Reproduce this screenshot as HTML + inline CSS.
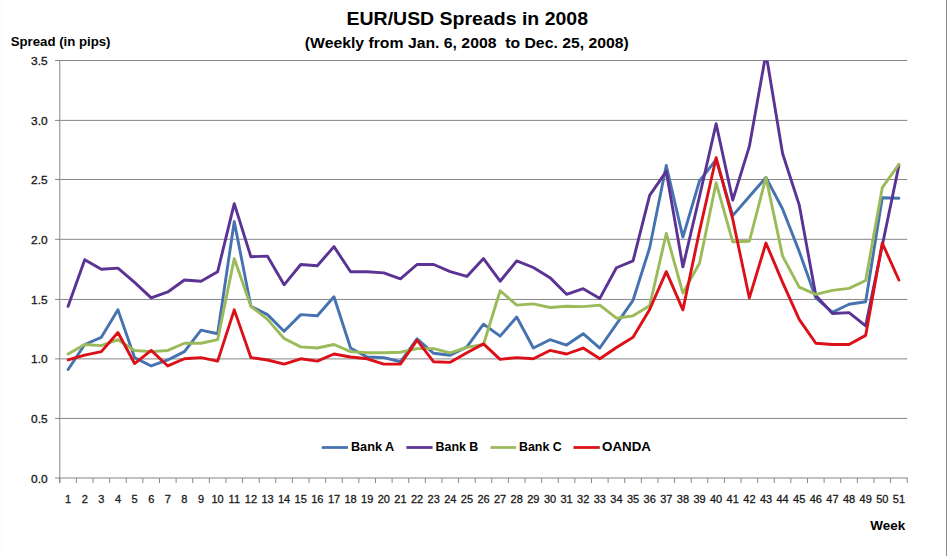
<!DOCTYPE html>
<html><head><meta charset="utf-8">
<style>
html,body{margin:0;padding:0;background:#fff;}
body{width:947px;height:556px;overflow:hidden;position:relative;}
svg{position:absolute;left:0;top:0;display:block;}
text{font-family:"Liberation Sans", sans-serif;}
</style></head>
<body>
<svg width="947" height="556" viewBox="0 0 947 556">
<rect x="0" y="0" width="947" height="556" fill="#ffffff"/>
<line x1="946.5" y1="0" x2="946.5" y2="556" stroke="#8c8c8c" stroke-width="1"/>
<line x1="1.5" y1="0" x2="1.5" y2="556" stroke="#f8f8f8" stroke-width="1"/>
<g fill="#000" font-weight="bold">
<text x="346.5" y="25.2" font-size="19" textLength="241.5" lengthAdjust="spacingAndGlyphs">EUR/USD Spreads in 2008</text>
<text x="304.8" y="47.6" font-size="15.5" textLength="324" lengthAdjust="spacingAndGlyphs" xml:space="preserve">(Weekly from Jan. 6, 2008  to Dec. 25, 2008)</text>
<text x="10.7" y="45.6" font-size="12.6" textLength="99.8" lengthAdjust="spacingAndGlyphs">Spread (in pips)</text>
<text x="870.3" y="529.9" font-size="13" textLength="34.9" lengthAdjust="spacingAndGlyphs">Week</text>
</g>
<g stroke="#868686" stroke-width="1">
<line x1="55" y1="418.45" x2="907.2" y2="418.45"/><line x1="55" y1="358.90" x2="907.2" y2="358.90"/><line x1="55" y1="299.45" x2="907.2" y2="299.45"/><line x1="55" y1="239.30" x2="907.2" y2="239.30"/><line x1="55" y1="179.50" x2="907.2" y2="179.50"/><line x1="55" y1="120.40" x2="907.2" y2="120.40"/><line x1="55" y1="60.50" x2="907.2" y2="60.50"/>
<line x1="59.8" y1="60" x2="59.8" y2="483"/>
<line x1="55" y1="478" x2="907.7" y2="478" stroke-width="1.2"/>
<line x1="59.80" y1="478.1" x2="59.80" y2="483"/><line x1="76.42" y1="478.1" x2="76.42" y2="483"/><line x1="93.03" y1="478.1" x2="93.03" y2="483"/><line x1="109.65" y1="478.1" x2="109.65" y2="483"/><line x1="126.26" y1="478.1" x2="126.26" y2="483"/><line x1="142.88" y1="478.1" x2="142.88" y2="483"/><line x1="159.49" y1="478.1" x2="159.49" y2="483"/><line x1="176.11" y1="478.1" x2="176.11" y2="483"/><line x1="192.73" y1="478.1" x2="192.73" y2="483"/><line x1="209.34" y1="478.1" x2="209.34" y2="483"/><line x1="225.96" y1="478.1" x2="225.96" y2="483"/><line x1="242.57" y1="478.1" x2="242.57" y2="483"/><line x1="259.19" y1="478.1" x2="259.19" y2="483"/><line x1="275.80" y1="478.1" x2="275.80" y2="483"/><line x1="292.42" y1="478.1" x2="292.42" y2="483"/><line x1="309.04" y1="478.1" x2="309.04" y2="483"/><line x1="325.65" y1="478.1" x2="325.65" y2="483"/><line x1="342.27" y1="478.1" x2="342.27" y2="483"/><line x1="358.88" y1="478.1" x2="358.88" y2="483"/><line x1="375.50" y1="478.1" x2="375.50" y2="483"/><line x1="392.11" y1="478.1" x2="392.11" y2="483"/><line x1="408.73" y1="478.1" x2="408.73" y2="483"/><line x1="425.35" y1="478.1" x2="425.35" y2="483"/><line x1="441.96" y1="478.1" x2="441.96" y2="483"/><line x1="458.58" y1="478.1" x2="458.58" y2="483"/><line x1="475.19" y1="478.1" x2="475.19" y2="483"/><line x1="491.81" y1="478.1" x2="491.81" y2="483"/><line x1="508.42" y1="478.1" x2="508.42" y2="483"/><line x1="525.04" y1="478.1" x2="525.04" y2="483"/><line x1="541.65" y1="478.1" x2="541.65" y2="483"/><line x1="558.27" y1="478.1" x2="558.27" y2="483"/><line x1="574.89" y1="478.1" x2="574.89" y2="483"/><line x1="591.50" y1="478.1" x2="591.50" y2="483"/><line x1="608.12" y1="478.1" x2="608.12" y2="483"/><line x1="624.73" y1="478.1" x2="624.73" y2="483"/><line x1="641.35" y1="478.1" x2="641.35" y2="483"/><line x1="657.96" y1="478.1" x2="657.96" y2="483"/><line x1="674.58" y1="478.1" x2="674.58" y2="483"/><line x1="691.20" y1="478.1" x2="691.20" y2="483"/><line x1="707.81" y1="478.1" x2="707.81" y2="483"/><line x1="724.43" y1="478.1" x2="724.43" y2="483"/><line x1="741.04" y1="478.1" x2="741.04" y2="483"/><line x1="757.66" y1="478.1" x2="757.66" y2="483"/><line x1="774.27" y1="478.1" x2="774.27" y2="483"/><line x1="790.89" y1="478.1" x2="790.89" y2="483"/><line x1="807.51" y1="478.1" x2="807.51" y2="483"/><line x1="824.12" y1="478.1" x2="824.12" y2="483"/><line x1="840.74" y1="478.1" x2="840.74" y2="483"/><line x1="857.35" y1="478.1" x2="857.35" y2="483"/><line x1="873.97" y1="478.1" x2="873.97" y2="483"/><line x1="890.58" y1="478.1" x2="890.58" y2="483"/><line x1="907.20" y1="478.1" x2="907.20" y2="483"/>
</g>
<g fill="#1a1a1a" font-size="11" stroke="#1a1a1a" stroke-width="0.3">
<text x="47.6" y="482.6" text-anchor="end" textLength="16.6" lengthAdjust="spacingAndGlyphs">0.0</text><text x="47.6" y="422.9" text-anchor="end" textLength="16.6" lengthAdjust="spacingAndGlyphs">0.5</text><text x="47.6" y="363.3" text-anchor="end" textLength="16.6" lengthAdjust="spacingAndGlyphs">1.0</text><text x="47.6" y="303.6" text-anchor="end" textLength="16.6" lengthAdjust="spacingAndGlyphs">1.5</text><text x="47.6" y="244.0" text-anchor="end" textLength="16.6" lengthAdjust="spacingAndGlyphs">2.0</text><text x="47.6" y="184.3" text-anchor="end" textLength="16.6" lengthAdjust="spacingAndGlyphs">2.5</text><text x="47.6" y="124.6" text-anchor="end" textLength="16.6" lengthAdjust="spacingAndGlyphs">3.0</text><text x="47.6" y="65.0" text-anchor="end" textLength="16.6" lengthAdjust="spacingAndGlyphs">3.5</text>
<text x="68.1" y="503.3" text-anchor="middle">1</text><text x="84.7" y="503.3" text-anchor="middle">2</text><text x="101.3" y="503.3" text-anchor="middle">3</text><text x="118.0" y="503.3" text-anchor="middle">4</text><text x="134.6" y="503.3" text-anchor="middle">5</text><text x="151.2" y="503.3" text-anchor="middle">6</text><text x="167.8" y="503.3" text-anchor="middle">7</text><text x="184.4" y="503.3" text-anchor="middle">8</text><text x="201.0" y="503.3" text-anchor="middle">9</text><text x="217.6" y="503.3" text-anchor="middle">10</text><text x="234.3" y="503.3" text-anchor="middle">11</text><text x="250.9" y="503.3" text-anchor="middle">12</text><text x="267.5" y="503.3" text-anchor="middle">13</text><text x="284.1" y="503.3" text-anchor="middle">14</text><text x="300.7" y="503.3" text-anchor="middle">15</text><text x="317.3" y="503.3" text-anchor="middle">16</text><text x="334.0" y="503.3" text-anchor="middle">17</text><text x="350.6" y="503.3" text-anchor="middle">18</text><text x="367.2" y="503.3" text-anchor="middle">19</text><text x="383.8" y="503.3" text-anchor="middle">20</text><text x="400.4" y="503.3" text-anchor="middle">21</text><text x="417.0" y="503.3" text-anchor="middle">22</text><text x="433.7" y="503.3" text-anchor="middle">23</text><text x="450.3" y="503.3" text-anchor="middle">24</text><text x="466.9" y="503.3" text-anchor="middle">25</text><text x="483.5" y="503.3" text-anchor="middle">26</text><text x="500.1" y="503.3" text-anchor="middle">27</text><text x="516.7" y="503.3" text-anchor="middle">28</text><text x="533.3" y="503.3" text-anchor="middle">29</text><text x="550.0" y="503.3" text-anchor="middle">30</text><text x="566.6" y="503.3" text-anchor="middle">31</text><text x="583.2" y="503.3" text-anchor="middle">32</text><text x="599.8" y="503.3" text-anchor="middle">33</text><text x="616.4" y="503.3" text-anchor="middle">34</text><text x="633.0" y="503.3" text-anchor="middle">35</text><text x="649.7" y="503.3" text-anchor="middle">36</text><text x="666.3" y="503.3" text-anchor="middle">37</text><text x="682.9" y="503.3" text-anchor="middle">38</text><text x="699.5" y="503.3" text-anchor="middle">39</text><text x="716.1" y="503.3" text-anchor="middle">40</text><text x="732.7" y="503.3" text-anchor="middle">41</text><text x="749.4" y="503.3" text-anchor="middle">42</text><text x="766.0" y="503.3" text-anchor="middle">43</text><text x="782.6" y="503.3" text-anchor="middle">44</text><text x="799.2" y="503.3" text-anchor="middle">45</text><text x="815.8" y="503.3" text-anchor="middle">46</text><text x="832.4" y="503.3" text-anchor="middle">47</text><text x="849.0" y="503.3" text-anchor="middle">48</text><text x="865.7" y="503.3" text-anchor="middle">49</text><text x="882.3" y="503.3" text-anchor="middle">50</text><text x="898.9" y="503.3" text-anchor="middle">51</text>
</g>
<defs><clipPath id="pc"><rect x="59.8" y="60.5" width="855.4000000000001" height="417.6"/></clipPath></defs>
<g fill="none" stroke-width="2.9" stroke-linejoin="round" stroke-linecap="round" clip-path="url(#pc)">
<polyline stroke="#4672b0" points="68.11,369.52 84.72,344.46 101.34,337.30 117.95,309.86 134.57,357.59 151.19,365.94 167.80,359.97 184.42,351.62 201.03,330.14 217.65,333.72 234.26,221.56 250.88,306.28 267.50,314.63 284.11,331.34 300.73,314.63 317.34,315.82 333.96,296.73 350.57,348.04 367.19,356.99 383.81,357.59 400.42,361.76 417.04,338.85 433.65,353.29 450.27,355.20 466.88,346.85 483.50,324.18 500.12,336.11 516.73,317.02 533.35,348.04 549.96,339.69 566.58,345.06 583.19,333.72 599.81,348.04 616.43,324.18 633.04,300.31 649.66,247.81 666.27,165.48 682.89,237.07 699.50,180.99 716.12,159.52 732.74,215.60 749.35,196.50 765.97,177.41 782.58,209.03 799.20,251.39 815.81,297.93 832.43,312.25 849.05,304.25 865.66,301.75 882.28,197.70 898.89,198.18"/>
<polyline stroke="#5a3394" points="68.11,306.28 84.72,259.74 101.34,269.29 117.95,268.10 134.57,282.42 151.19,297.93 167.80,291.96 184.42,280.03 201.03,281.22 217.65,271.68 234.26,203.66 250.88,256.76 267.50,256.16 284.11,284.80 300.73,264.52 317.34,265.71 333.96,246.62 350.57,271.68 367.19,271.68 383.81,272.87 400.42,278.84 417.04,264.52 433.65,264.52 450.27,271.68 466.88,276.45 483.50,258.55 500.12,281.22 516.73,260.94 533.35,267.50 549.96,277.64 566.58,294.35 583.19,288.74 599.81,298.40 616.43,267.74 633.04,260.94 649.66,195.31 666.27,171.45 682.89,266.90 699.50,196.50 716.12,123.72 732.74,200.08 749.35,146.39 765.97,53.32 782.58,153.55 799.20,204.86 815.81,295.54 832.43,313.44 849.05,312.60 865.66,325.85 882.28,245.43 898.89,165.48"/>
<polyline stroke="#9bba5a" points="68.11,354.01 84.72,344.46 101.34,345.65 117.95,339.69 134.57,350.43 151.19,351.62 167.80,350.43 184.42,343.27 201.03,343.27 217.65,339.69 234.26,258.55 250.88,306.28 267.50,319.40 284.11,338.50 300.73,346.85 317.34,348.04 333.96,344.46 350.57,351.62 367.19,352.81 383.81,352.81 400.42,352.22 417.04,348.64 433.65,348.64 450.27,352.81 466.88,347.44 483.50,344.46 500.12,290.77 516.73,305.09 533.35,303.89 549.96,307.47 566.58,306.28 583.19,306.64 599.81,305.09 616.43,318.21 633.04,315.82 649.66,305.80 666.27,233.49 682.89,293.15 699.50,263.32 716.12,182.78 732.74,241.85 749.35,241.25 765.97,177.41 782.58,256.16 799.20,287.19 815.81,294.35 832.43,290.41 849.05,288.38 865.66,280.51 882.28,187.68 898.89,164.29"/>
<polyline stroke="#dc1018" points="68.11,359.97 84.72,355.20 101.34,351.62 117.95,332.53 134.57,363.55 151.19,350.43 167.80,365.94 184.42,358.78 201.03,357.59 217.65,361.17 234.26,309.86 250.88,357.59 267.50,359.97 284.11,364.15 300.73,358.78 317.34,361.17 333.96,354.01 350.57,356.99 367.19,358.78 383.81,364.15 400.42,364.15 417.04,340.17 433.65,361.76 450.27,362.36 466.88,352.81 483.50,343.87 500.12,359.38 516.73,357.59 533.35,358.78 549.96,350.43 566.58,354.01 583.19,348.04 599.81,358.78 616.43,347.44 633.04,337.30 649.66,309.50 666.27,271.68 682.89,309.86 699.50,231.11 716.12,157.73 732.74,219.18 749.35,297.93 765.97,243.04 782.58,282.42 799.20,319.40 815.81,343.27 832.43,344.46 849.05,344.46 865.66,335.39 882.28,243.04 898.89,280.03"/>
</g>
<g stroke-width="2.75">
<line x1="321.8" y1="447.5" x2="348" y2="447.5" stroke="#4672b0"/>
<line x1="406.4" y1="447.5" x2="432.6" y2="447.5" stroke="#5a3394"/>
<line x1="490.5" y1="447.5" x2="516.1" y2="447.5" stroke="#9bba5a"/>
<line x1="573.5" y1="447.5" x2="599.8" y2="447.5" stroke="#dc1018"/>
</g>
<g fill="#000" font-weight="bold" font-size="12">
<text x="350.9" y="450.9" textLength="43.3" lengthAdjust="spacingAndGlyphs">Bank A</text>
<text x="435.5" y="450.9" textLength="42.8" lengthAdjust="spacingAndGlyphs">Bank B</text>
<text x="519" y="450.9" textLength="42.7" lengthAdjust="spacingAndGlyphs">Bank C</text>
<text x="602" y="450.9" textLength="49" lengthAdjust="spacingAndGlyphs">OANDA</text>
</g>
</svg>
</body></html>
